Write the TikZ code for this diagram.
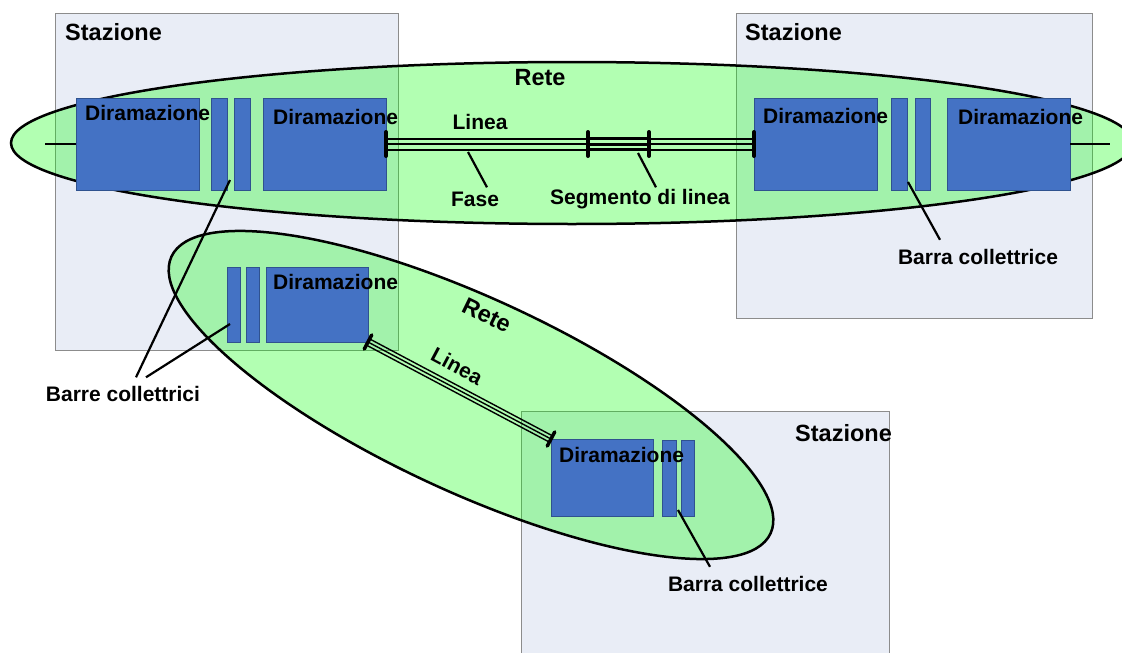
\documentclass[tikz,border=0pt]{standalone}
\usepackage{fontspec}
\setmainfont{Liberation Sans}
\usetikzlibrary{positioning,calc}
\definecolor{stzfill}{RGB}{233,237,246}
\definecolor{stzline}{RGB}{140,140,140}
\definecolor{dirfill}{RGB}{68,114,196}
\definecolor{dirline}{RGB}{47,82,143}
\tikzset{
  stz/.style  = { draw=stzline, fill=stzfill, line width=1pt, inner sep=0pt, outer sep=0pt, anchor=north west },
  dir/.style  = { draw=dirline, fill=dirfill, line width=0.8pt, inner sep=0pt, outer sep=0pt, anchor=north west },
  rete/.style = { draw=black, line width=2.5pt, fill=green, fill opacity=0.3 },
  lbl/.style  = { inner sep=0pt, text height=15pt, text depth=0pt, font=\fontsize{21}{25}\selectfont\bfseries },
  big/.style  = { lbl, text height=16.8pt, font=\fontsize{23.5}{28}\selectfont\bfseries },
  ph/.style   = { line width=2pt },
  tick/.style = { line width=4pt, line cap=round },
  ann/.style  = { line width=2.2pt }
}
\begin{document}
\begin{tikzpicture}[x=1pt,y=-1pt]
    \useasboundingbox (0,0) rectangle (1122,653);
    % stazioni
    \node[stz, minimum width=343pt, minimum height=337pt] (s1) at (55,13) {};
    \node[stz, minimum width=356pt, minimum height=305pt] (s2) at (736,13) {};
    \node[stz, minimum width=368pt, minimum height=260pt] (s3) at (521,411) {};
    \node[big, anchor=west] at ($(s1.north west)+(10,19)$) {Stazione};
    \node[big, anchor=west] at ($(s2.north west)+(9,19)$) {Stazione};
    \node[big, anchor=west] at ($(s3.north west)+(274,22)$) {Stazione};

    % reti
    \draw[rete] (572,143) ellipse [x radius=561pt, y radius=81pt];
    \draw[rete, rotate around={-24.8:(471,395)}] (471,395) ellipse [x radius=330pt, y radius=97pt];

    % prima rete
    \node[dir, minimum width=123pt, minimum height=92pt] (r1d1) at (76,98) {};
    \node[dir, minimum width=16pt, minimum height=92pt, right=12pt of r1d1] (r1b1) {};
    \node[dir, minimum width=16pt, minimum height=92pt, right=7pt of r1b1] (r1b2) {};
    \node[dir, minimum width=123pt, minimum height=92pt, right=13pt of r1b2] (r1d2) {};
    \node[dir, minimum width=123pt, minimum height=92pt] (r1d3) at (754,98) {};
    \node[dir, minimum width=16pt, minimum height=92pt, right=14pt of r1d3] (r1b3) {};
    \node[dir, minimum width=15pt, minimum height=92pt, right=8pt of r1b3] (r1b4) {};
    \node[dir, minimum width=123pt, minimum height=92pt, right=17pt of r1b4] (r1d4) {};
    \node[lbl, anchor=west] at ($(r1d1.north west)+(9,15)$) {Diramazione};
    \node[lbl, anchor=west] at ($(r1d2.north west)+(10,19)$) {Diramazione};
    \node[lbl, anchor=west] at ($(r1d3.north west)+(9,18)$) {Diramazione};
    \node[lbl, anchor=west] at ($(r1d4.north west)+(11,19)$) {Diramazione};

    % seconda rete
    \node[dir, minimum width=13pt, minimum height=75pt] (r2b1) at (227,267) {};
    \node[dir, minimum width=13pt, minimum height=75pt, right=6pt of r2b1] (r2b2) {};
    \node[dir, minimum width=102pt, minimum height=75pt, right=7pt of r2b2] (r2d1) {};
    \node[lbl, anchor=west] at ($(r2d1.north west)+(7,15)$) {Diramazione};
    \node[dir, minimum width=102pt, minimum height=77pt] (r3d1) at (551,439) {};
    \node[dir, minimum width=14pt, minimum height=76pt] (r3b1) at (662,440) {};
    \node[dir, minimum width=13pt, minimum height=76pt, right=5pt of r3b1] (r3b2) {};
    \node[lbl, anchor=west] at ($(r3d1.north west)+(8,16)$) {Diramazione};

    % linee
    \coordinate (lend) at (45,144);
    \coordinate (rend) at (1110,144);
    \coordinate (sg1) at (588,144);
    \coordinate (sg2) at (649,144);
    \draw[ph] (lend) -- (r1d1.west);
    \draw[ph] (r1d4.east) -- (rend);
    \foreach \o in {-5.5,0,5.5}
      \draw[ph] ($(r1d2.east)+(0,\o)$) -- ($(r1d3.west)+(0,\o)$);
    \foreach \o in {-5.5,0,5.5}
      \draw[ph, line width=3pt] ($(sg1)+(0,\o)$) -- ($(sg2)+(0,\o)$);
    \foreach \c in {r1d2.east,sg1,sg2,r1d3.west}
      \draw[tick] ($(\c)+(0,-12)$) -- ($(\c)+(0,12)$);
    \foreach \o in {-3.5pt,0pt,3.5pt}
      \draw[ph, line width=1.4pt] ($(r2d1.south east)!\o!90:(r3d1.north west)$) -- ($(r3d1.north west)!\o!-90:(r2d1.south east)$);
    \draw[tick, line width=3.5pt] ($(r2d1.south east)!8pt!90:(r3d1.north west)$) -- ($(r2d1.south east)!8pt!-90:(r3d1.north west)$);
    \draw[tick, line width=3.5pt] ($(r3d1.north west)!8pt!90:(r2d1.south east)$) -- ($(r3d1.north west)!8pt!-90:(r2d1.south east)$);

    % scritte
    \node[big] (rete1) at (540,77) {Rete};
    \node[lbl] (linea1) at (480,122) {Linea};
    \node[big, rotate=-26] (rete2) at (487,315) {Rete};
    \node[lbl, rotate=-28] (linea2) at (457,366) {Linea};
    \node[lbl] (fase) at (475,199) {Fase};
    \node[lbl] (seg) at (640,197) {Segmento di linea};
    \node[lbl] (bc1) at (978,257) {Barra collettrice};
    \node[lbl] (bcs) at (123,394) {Barre collettrici};
    \node[lbl] (bc3) at (748,584) {Barra collettrice};

    \draw[ann] (468,152) -- ($(fase.north)+(12,-4)$);
    \draw[ann] (638,153) -- ($(seg.north)+(16,-2)$);
    \draw[ann] ($(r1b3.south east)+(1,-8)$) -- ($(bc1.north)+(-38,-9.5)$);
    \draw[ann] ($(r1b1.south east)+(3,-10)$) -- ($(bcs.north)+(13,-9)$);
    \draw[ann] ($(r2b1.west)+(3,19.5)$) -- ($(bcs.north)+(23,-9)$);
    \draw[ann] ($(r3b1.south east)+(2,-6)$) -- ($(bc3.north)+(-38,-9.5)$);
\end{tikzpicture}
\end{document}
